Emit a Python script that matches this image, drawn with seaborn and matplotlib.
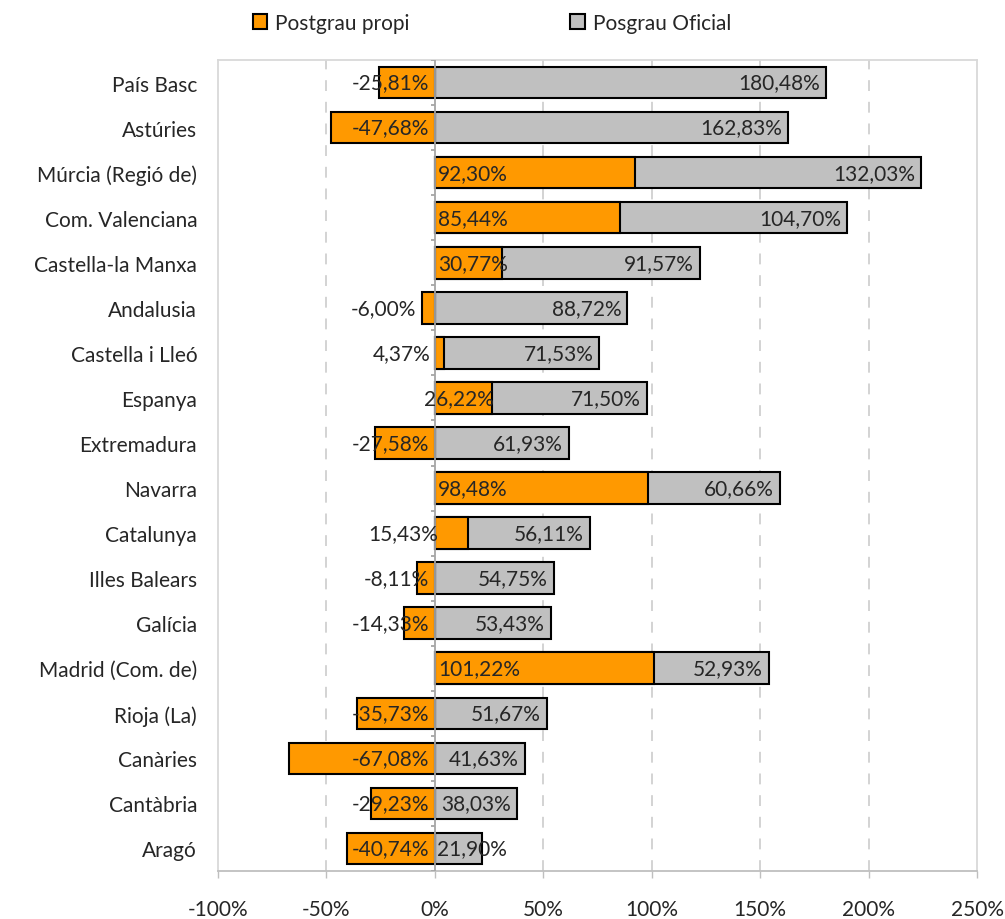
import numpy as np
import pandas as pd
import matplotlib
matplotlib.use("Agg")
import matplotlib.pyplot as plt
from matplotlib.patches import Patch
import seaborn as sns

# data
regions = ["País Basc", "Astúries", "Múrcia (Regió de)", "Com. Valenciana",
           "Castella-la Manxa", "Andalusia", "Castella i Lleó", "Espanya",
           "Extremadura", "Navarra", "Catalunya", "Illes Balears", "Galícia",
           "Madrid (Com. de)", "Rioja (La)", "Canàries", "Cantàbria", "Aragó"]
propi = [-25.81, -47.68, 92.30, 85.44, 30.77, -6.00, 4.37, 26.22, -27.58,
         98.48, 15.43, -8.11, -14.33, 101.22, -35.73, -67.08, -29.23, -40.74]
oficial = [180.48, 162.83, 132.03, 104.70, 91.57, 88.72, 71.53, 71.50, 61.93,
           60.66, 56.11, 54.75, 53.43, 52.93, 51.67, 41.63, 38.03, 21.90]

ORANGE = "#FF9900"
GREY = "#C0C0C0"
TXT = "#262626"
FS = 15

df = pd.DataFrame({"region": regions, "propi": propi, "oficial": oficial})
# grey bar is stacked on the orange one only when orange is positive
df["base"] = df["propi"].clip(lower=0)
df["end"] = df["base"] + df["oficial"]

sns.set_theme(style="white")
plt.rcParams["font.family"] = ["Lato", "DejaVu Sans"]

fig = plt.figure(figsize=(10.05, 9.2), dpi=100)
ax = fig.add_axes([218 / 1005, 1 - 872 / 920, (977 - 218) / 1005, (872 - 61) / 920])

# grey from 0 to end, then orange drawn over it
sns.barplot(data=df, y="region", x="end", color=GREY, width=0.7,
            edgecolor="black", linewidth=1.5, saturation=1, ax=ax, zorder=3)
sns.barplot(data=df, y="region", x="propi", color=ORANGE, width=0.7,
            edgecolor="black", linewidth=1.5, saturation=1, ax=ax, zorder=4)

ax.set_xlim(-100, 250)
ax.set_ylim(len(df) - 0.5, -0.5)
ticks = np.arange(-100, 251, 50)
ax.set_xticks(ticks)
ax.set_xticklabels([f"{t}%" for t in ticks], fontsize=FS, color=TXT)
ax.set_xlabel("")
ax.set_ylabel("")
ax.tick_params(axis="y", length=0, pad=15, labelsize=FS, labelcolor=TXT)
ax.tick_params(axis="x", length=5, width=1, color="#BFBFBF", pad=15,
               direction="out", bottom=True)

for t in ticks[1:-1]:
    if t == 0:
        continue
    ax.axvline(t, color="#D0D0D0", lw=1.3, ls=(0, (6, 6)), zorder=1)
ax.axvline(0, color="#A6A6A6", lw=1.3, zorder=5)
# small tick marks on the category axis at 0
ax.hlines(np.arange(len(df) + 1) - 0.5, -1.8, 0, color="#A6A6A6", lw=1.3, zorder=5)

for s in ax.spines.values():
    s.set_color("#D9D9D9")
    s.set_linewidth(1.3)
ax.spines["bottom"].set_color("#BFBFBF")

# value labels
for i, r in df.iterrows():
    p, o = r["propi"], r["oficial"]
    lab = f"{p:.2f}%".replace(".", ",")
    if p < 0:
        x = min(-2.5, p - 2.5) if p > -7 else -2.5
        ax.text(x, i, lab, ha="right", va="center", fontsize=FS, color=TXT, zorder=6)
    elif p >= 28:
        ax.text(1.5, i, lab, ha="left", va="center", fontsize=FS, color=TXT, zorder=6)
    elif p >= 20:
        ax.text(p + 1, i, lab, ha="right", va="center", fontsize=FS, color=TXT, zorder=6)
    elif p >= 10:
        ax.text(1.5, i, lab, ha="right", va="center", fontsize=FS, color=TXT, zorder=6)
    else:
        ax.text(-2, i, lab, ha="right", va="center", fontsize=FS, color=TXT, zorder=6)

    glab = f"{o:.2f}%".replace(".", ",")
    if o > 32:
        ax.text(r["end"] - 2.8, i, glab, ha="right", va="center", fontsize=FS, color=TXT, zorder=6)
    else:
        ax.text(r["base"] + 0.8, i, glab, ha="left", va="center", fontsize=FS, color=TXT, zorder=6)

handles = [Patch(facecolor=ORANGE, edgecolor="black", linewidth=1.5, label="Postgrau propi"),
           Patch(facecolor=GREY, edgecolor="black", linewidth=1.5, label="Posgrau Oficial")]
fig.legend(handles=handles, loc="center", bbox_to_anchor=(492 / 1005, 1 - 24 / 920),
           ncol=2, frameon=False, fontsize=FS, handlelength=0.7, handleheight=0.7,
           handletextpad=0.4, columnspacing=7.7)

fig.savefig("out.png", dpi=100, facecolor="white")
